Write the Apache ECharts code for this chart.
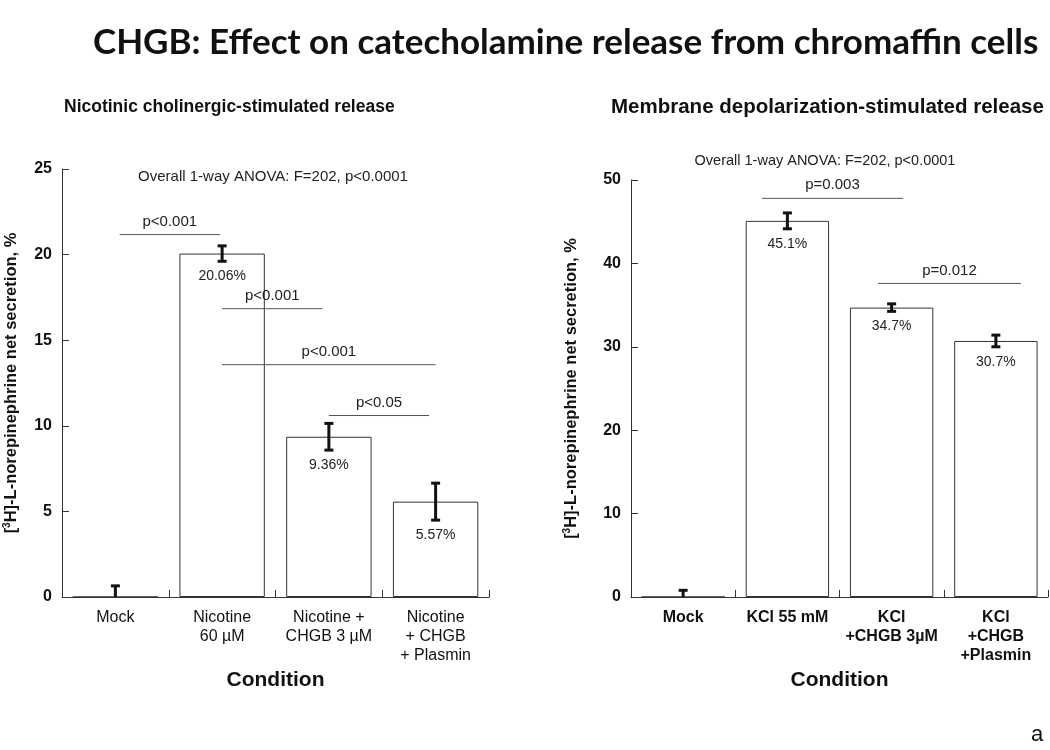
<!DOCTYPE html>
<html>
<head>
<meta charset="utf-8">
<script src="https://cdn.jsdelivr.net/npm/echarts@6/dist/echarts.min.js"></script>
<style>
  html, body { margin: 0; padding: 0; background: #fff; }
  #chart { width: 1050px; height: 750px; }
</style>
</head>
<body>
<div id="chart"></div>
<script>
// left panel: nicotinic stimulation
var nicCategories = ['Mock', 'Nicotine\n60 µM', 'Nicotine +\nCHGB 3 µM', 'Nicotine\n+ CHGB\n+ Plasmin'];
var nicValues = [0, 20.06, 9.36, 5.57];
var nicErrors = [0.65, 0.45, 0.78, 1.08];
var nicLabels = ['', '20.06%', '9.36%', '5.57%'];
// [from category pos, to category pos, height, text]
var nicBrackets = [
  [0.04, 0.98, 21.17, 'p<0.001'],
  [1.0, 1.94, 16.84, 'p<0.001'],
  [1.0, 3.0, 13.57, 'p<0.001'],
  [2.0, 2.94, 10.6, 'p<0.05']
];
var nicTicks = [0, 5, 10, 15, 20, 25];

// right panel: KCl depolarization
var kclCategories = ['Mock', 'KCl 55 mM', 'KCl\n+CHGB 3µM', 'KCl\n+CHGB\n+Plasmin'];
var kclValues = [0, 45.1, 34.7, 30.7];
var kclErrors = [0.8, 0.95, 0.45, 0.7];
var kclLabels = ['', '45.1%', '34.7%', '30.7%'];
var kclBrackets = [
  [0.755, 2.11, 47.8, 'p=0.003'],
  [1.87, 3.24, 37.6, 'p=0.012']
];
var kclTicks = [0, 10, 20, 30, 40, 50];

var FONT = 'Liberation Sans, Arial, sans-serif';

function errorRender(labels) {
  return function (params, api) {
    var i = api.value(0), v = api.value(1), e = api.value(2);
    var top = api.coord([i, v + e]);
    var bot = api.coord([i, v - e]);
    var cap = 4.5;
    var st = { stroke: '#111', lineWidth: 3 };
    var kids = [
      { type: 'line', shape: { x1: top[0], y1: top[1], x2: bot[0], y2: bot[1] }, style: st },
      { type: 'line', shape: { x1: top[0] - cap, y1: top[1], x2: top[0] + cap, y2: top[1] }, style: st },
      { type: 'line', shape: { x1: bot[0] - cap, y1: bot[1], x2: bot[0] + cap, y2: bot[1] }, style: st }
    ];
    if (labels[params.dataIndex]) {
      kids.push({
        type: 'text',
        style: { text: labels[params.dataIndex], x: bot[0], y: bot[1] + 15, align: 'center', verticalAlign: 'middle',
          font: '14px ' + FONT, fill: '#222' }
      });
    }
    return { type: 'group', children: kids };
  };
}

function bracketRender(brackets) {
  return function (params, api) {
    var b = brackets[params.dataIndex];
    var bw = api.size([1, 0])[0];
    var p = api.coord([0, b[2]]);
    var x0 = p[0] + b[0] * bw;
    var x1 = p[0] + b[1] * bw;
    return {
      type: 'group',
      children: [
        { type: 'line', shape: { x1: x0, y1: p[1], x2: x1, y2: p[1] }, style: { stroke: '#555', lineWidth: 1 } },
        { type: 'text', style: { text: b[3], x: (x0 + x1) / 2, y: p[1] - 13, align: 'center', verticalAlign: 'middle',
          font: '15px ' + FONT, fill: '#222' } }
      ]
    };
  };
}

function xAxisFor(cats, gridIndex, bold) {
  return {
    type: 'category', gridIndex: gridIndex, data: cats,
    name: 'Condition', nameLocation: 'middle', nameGap: 68,
    nameTextStyle: { fontFamily: FONT, fontSize: 21, fontWeight: 'bold', color: '#111' },
    axisLine: { lineStyle: { color: '#333', width: 1 } },
    axisTick: { show: true, inside: true, length: 7, alignWithLabel: false, lineStyle: { color: '#333' } },
    axisLabel: { fontFamily: FONT, fontSize: 16, fontWeight: bold ? 'bold' : 'normal', color: '#111', margin: 11, lineHeight: 19, interval: 0 }
  };
}

function yAxisFor(ticks, gridIndex, gap) {
  return {
    type: 'value', gridIndex: gridIndex, min: ticks[0], max: ticks[ticks.length - 1], interval: ticks[1] - ticks[0],
    name: '[{sup|3}H]-L-norepinephrine net secretion, %', nameLocation: 'middle', nameGap: gap,
    nameTextStyle: { fontFamily: FONT, fontSize: 16.5, fontWeight: 'bold', color: '#111',
      rich: { sup: { fontFamily: FONT, fontSize: 10, fontWeight: 'bold', color: '#111', verticalAlign: 'top', padding: [0, 0, 9, 0] } } },
    splitLine: { show: false },
    axisLine: { show: true, lineStyle: { color: '#333', width: 1 } },
    axisTick: { show: true, inside: true, length: 7, lineStyle: { color: '#333' } },
    axisLabel: { fontFamily: FONT, fontSize: 16, fontWeight: 'bold', color: '#111', margin: 10 }
  };
}

var chart = echarts.init(document.getElementById('chart'));
chart.setOption({
  backgroundColor: '#fff',
  animation: false,
  title: [
    { text: 'CHGB: Effect on catecholamine release from chromaffin cells', left: 88, top: 20,
      textStyle: { fontFamily: 'Lato, sans-serif', fontSize: 35, fontWeight: 'bold', color: '#111' } },
    { text: 'Nicotinic cholinergic-stimulated release', left: 59, top: 93,
      textStyle: { fontFamily: FONT, fontSize: 17.5, fontWeight: 'bold', color: '#111' } },
    { text: 'Membrane depolarization-stimulated release', left: 606, top: 92,
      textStyle: { fontFamily: FONT, fontSize: 20.5, fontWeight: 'bold', color: '#111' } },
    { text: 'a', left: 1031, top: 724, padding: 0, textStyle: { fontFamily: FONT, fontSize: 22, fontWeight: 'normal', color: '#111' } }
  ],
  graphic: [
    { type: 'text', x: 273, y: 177, style: { text: 'Overall 1-way ANOVA: F=202, p<0.0001', align: 'center', verticalAlign: 'middle',
      font: '15px ' + FONT, fill: '#222' } },
    { type: 'text', x: 825, y: 161, style: { text: 'Overall 1-way ANOVA: F=202, p<0.0001', align: 'center', verticalAlign: 'middle',
      font: '14.5px ' + FONT, fill: '#222' } }
  ],
  grid: [
    { left: 62, right: 561, top: 169, bottom: 153 },
    { left: 631, right: 2, top: 180, bottom: 153 }
  ],
  xAxis: [xAxisFor(nicCategories, 0, false), xAxisFor(kclCategories, 1, true)],
  yAxis: [yAxisFor(nicTicks, 0, 41), yAxisFor(kclTicks, 1, 50)],
  series: [
    { type: 'bar', xAxisIndex: 0, yAxisIndex: 0, data: nicValues, barWidth: '80%',
      itemStyle: { color: '#fff', borderColor: '#333', borderWidth: 1 } },
    { type: 'custom', xAxisIndex: 0, yAxisIndex: 0, clip: true, renderItem: errorRender(nicLabels),
      data: nicValues.map(function (v, i) { return [i, v, nicErrors[i]]; }), z: 5 },
    { type: 'custom', xAxisIndex: 0, yAxisIndex: 0, renderItem: bracketRender(nicBrackets),
      data: nicBrackets.map(function (b) { return [0, b[2]]; }), z: 6 },
    { type: 'bar', xAxisIndex: 1, yAxisIndex: 1, data: kclValues, barWidth: '80%',
      itemStyle: { color: '#fff', borderColor: '#333', borderWidth: 1 } },
    { type: 'custom', xAxisIndex: 1, yAxisIndex: 1, clip: true, renderItem: errorRender(kclLabels),
      data: kclValues.map(function (v, i) { return [i, v, kclErrors[i]]; }), z: 5 },
    { type: 'custom', xAxisIndex: 1, yAxisIndex: 1, renderItem: bracketRender(kclBrackets),
      data: kclBrackets.map(function (b) { return [0, b[2]]; }), z: 6 }
  ]
});
</script>
</body>
</html>
